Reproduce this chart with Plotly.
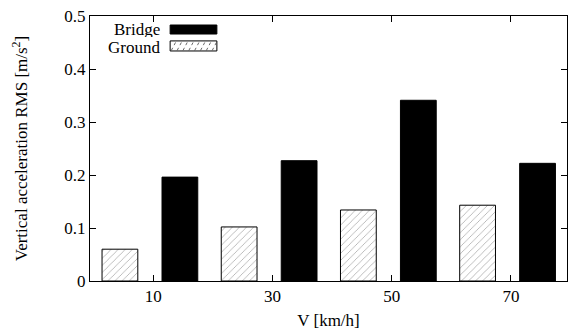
import plotly.graph_objects as go

speeds = ["10", "30", "50", "70"]
ground = [0.060, 0.102, 0.134, 0.143]
bridge = [0.196, 0.227, 0.341, 0.222]
y_ticks = [0, 0.1, 0.2, 0.3, 0.4, 0.5]

xpos = list(range(len(speeds)))
FONT = "Liberation Serif, Times New Roman, serif"
FS = 17

fig = go.Figure()
fig.add_trace(go.Bar(
    x=xpos, y=ground, name="Ground", width=0.30, offset=-0.43,
    marker=dict(color="white", line=dict(color="black", width=1),
                pattern=dict(shape="/", fgcolor="#222", bgcolor="white", size=5, solidity=0.12)),
    showlegend=False,
))
fig.add_trace(go.Bar(
    x=xpos, y=bridge, name="Bridge", width=0.30, offset=0.073,
    marker=dict(color="black", line=dict(color="black", width=1)),
    showlegend=False,
))

# Legend drawn manually (text left of swatch, gnuplot style)
shapes = [
    dict(type="rect", xref="paper", yref="paper", x0=0.168, x1=0.266, y0=0.932, y1=0.966,
         fillcolor="black", line=dict(color="black", width=1)),
    dict(type="rect", xref="paper", yref="paper", x0=0.168, x1=0.266, y0=0.868, y1=0.906,
         fillcolor="white", line=dict(color="black", width=1)),
]
n = 8
for i in range(n):
    xa = 0.168 + (i + 0.2) * (0.266 - 0.168) / n
    shapes.append(dict(type="line", xref="paper", yref="paper",
                       x0=xa, x1=xa + 0.010, y0=0.870, y1=0.904,
                       line=dict(color="#444", width=0.8, dash="dot")))

annotations = [
    dict(text="Bridge", xref="paper", yref="paper", x=0.150, y=0.951, xanchor="right",
         yanchor="middle", showarrow=False, height=16,
         font=dict(family=FONT, size=FS, color="black")),
    dict(text="Ground", xref="paper", yref="paper", x=0.150, y=0.884, xanchor="right",
         yanchor="middle", showarrow=False, height=16,
         font=dict(family=FONT, size=FS, color="black")),
]

fig.update_layout(
    width=576, height=330,
    margin=dict(l=90, r=9, t=16, b=49),
    paper_bgcolor="white", plot_bgcolor="white",
    barmode="overlay",
    font=dict(family=FONT, size=FS, color="black"),
    shapes=shapes, annotations=annotations,
    xaxis=dict(
        range=[-0.531, 3.47], tickmode="array", tickvals=xpos, ticktext=speeds,
        ticks="inside", ticklen=6, tickcolor="black", showline=True, linecolor="black",
        linewidth=1, mirror="ticks", showgrid=False, zeroline=False, automargin=False,
        tickfont=dict(size=FS),
        title=dict(text="V [km/h]", standoff=9, font=dict(size=FS)),
    ),
    yaxis=dict(
        range=[0, 0.5], tickmode="array", tickvals=y_ticks,
        ticktext=["0", "0.1", "0.2", "0.3", "0.4", "0.5"],
        ticks="inside", ticklen=6, tickcolor="black", showline=True, linecolor="black",
        linewidth=1, mirror="ticks", showgrid=False, zeroline=False, automargin=False,
        tickfont=dict(size=FS),
        title=dict(text="Vertical acceleration RMS [m/s<sup>2</sup>]", standoff=32, font=dict(size=FS)),
    ),
)

fig.write_html("out.html", config={"displayModeBar": False},
               post_script="document.body.style.margin='0';")
